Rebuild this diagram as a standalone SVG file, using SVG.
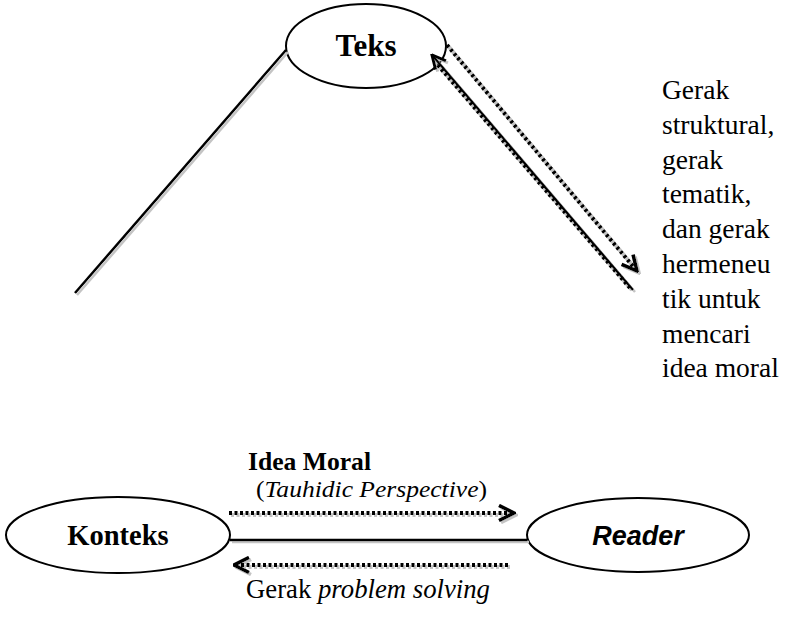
<svg xmlns="http://www.w3.org/2000/svg" width="812" height="619" viewBox="0 0 812 619">
<style>
.node{fill:#fff;stroke:#000;stroke-width:2}
.solid{stroke:#000;stroke-width:2.5;fill:none}
.dot{stroke:#000;stroke-width:4;stroke-dasharray:3 2.5;fill:none}
text{font-family:"Liberation Serif","Times New Roman","DejaVu Serif",serif;fill:#000}
.b{font-weight:bold}
.i{font-style:italic}
.side{font-size:27.5px}
</style>
<defs>
<filter id="sh" x="-10%" y="-10%" width="120%" height="120%">
<feColorMatrix in="SourceAlpha" type="matrix" values="0 0 0 0 0.55 0 0 0 0 0.55 0 0 0 0 0.55 0 0 0 1 0" result="g"/>
<feOffset in="g" dx="1.5" dy="1.5" result="o"/>
<feMerge><feMergeNode in="o"/><feMergeNode in="SourceGraphic"/></feMerge>
</filter>
<marker id="ah" viewBox="0 0 12 12" refX="11" refY="6" markerWidth="4.5" markerHeight="4.5" orient="auto" markerUnits="strokeWidth">
<path d="M1,1 L11,6 L1,11" fill="none" stroke="#000" stroke-width="2.4"/>
</marker>
<marker id="ah2" viewBox="0 0 12 12" refX="11" refY="6" markerWidth="6.5" markerHeight="6.5" orient="auto" markerUnits="strokeWidth">
<path d="M1,1 L11,6 L1,11" fill="none" stroke="#000" stroke-width="2.2"/>
</marker>
</defs>
<g id="teks">
<ellipse class="node" cx="366" cy="46" rx="80" ry="42"/>
<text class="b" x="366" y="56" font-size="31" text-anchor="middle">Teks</text>
</g>
<g id="konteks">
<ellipse class="node" cx="118" cy="535" rx="112" ry="38"/>
<text class="b" x="118" y="545" font-size="28.5" text-anchor="middle">Konteks</text>
</g>
<g id="reader">
<ellipse class="node" cx="638" cy="535" rx="111" ry="37"/>
<text x="638" y="545" style="font-family:'Liberation Sans',Arial,sans-serif" font-weight="bold" font-style="italic" font-size="27" text-anchor="middle">Reader</text>
</g>
<g id="connectors" filter="url(#sh)">
<line class="solid" x1="286" y1="50" x2="75" y2="293"/>
<line class="dot" x1="447" y1="45" x2="637" y2="271" marker-end="url(#ah)"/>
<line class="dot" x1="630" y1="288" x2="436" y2="63"/>
<line class="solid" x1="633" y1="290" x2="432" y2="55" marker-end="url(#ah2)"/>
<line class="dot" x1="229" y1="513" x2="514" y2="513" marker-end="url(#ah)"/>
<line class="solid" x1="230" y1="540" x2="527" y2="540"/>
<line class="dot" x1="508" y1="565" x2="234" y2="565" marker-end="url(#ah)"/>
</g>
<g id="labels">
<text class="b" x="248" y="470" font-size="25" textLength="123" lengthAdjust="spacingAndGlyphs">Idea Moral</text>
<text x="256" y="497" font-size="23" textLength="231" lengthAdjust="spacingAndGlyphs">(<tspan class="i">Tauhidic Perspective</tspan>)</text>
<text x="246" y="598" font-size="27" textLength="244" lengthAdjust="spacingAndGlyphs">Gerak <tspan class="i">problem solving</tspan></text>
<text class="side">
<tspan x="662" y="99">Gerak</tspan>
<tspan x="662" y="134">struktural,</tspan>
<tspan x="662" y="169">gerak</tspan>
<tspan x="662" y="203">tematik,</tspan>
<tspan x="662" y="238">dan gerak</tspan>
<tspan x="662" y="273">hermeneu</tspan>
<tspan x="662" y="308">tik untuk</tspan>
<tspan x="662" y="343">mencari</tspan>
<tspan x="662" y="377">idea moral</tspan>
</text>
</g>
</svg>
